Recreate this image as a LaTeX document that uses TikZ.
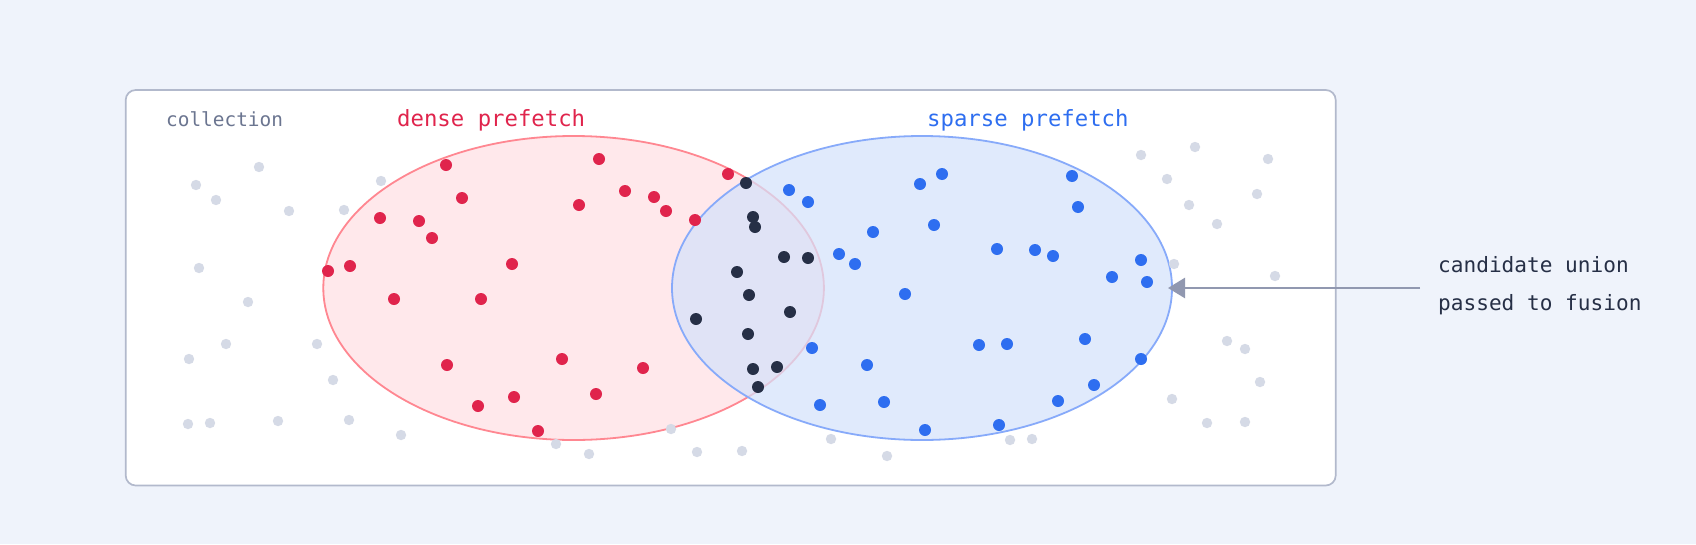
\documentclass[tikz,border=0pt]{standalone}
\usepackage{fontspec}
\setmonofont{DejaVu Sans Mono}
\usepackage{tikz}
\usetikzlibrary{arrows.meta}
\definecolor{bgcol}{RGB}{239,243,251}
\definecolor{boxline}{RGB}{178,185,204}
\definecolor{collcol}{RGB}{107,117,144}
\definecolor{redcol}{RGB}{224,36,76}
\definecolor{redline}{RGB}{255,135,145}
\definecolor{redfill}{RGB}{255,232,235}
\definecolor{bluecol}{RGB}{46,110,240}
\definecolor{blueline}{RGB}{135,170,250}
\definecolor{bluefill}{RGB}{213,226,251}
\definecolor{darkcol}{RGB}{38,47,70}
\definecolor{graycol}{RGB}{213,218,230}
\definecolor{arrowcol}{RGB}{145,152,176}

\begin{document}
\begin{tikzpicture}[x=1pt,y=-1pt,
  lbl/.style={anchor=base west,inner sep=0pt,font=\ttfamily\fontsize{22.3}{26}\selectfont},
  note/.style={anchor=base west,inner sep=0pt,text=darkcol,font=\ttfamily\fontsize{21.1}{25}\selectfont}]
%\draw[help lines](0,0)grid(1696,544);
\fill[bgcol] (0,0) rectangle (1696,544);
\draw[boxline,line width=1.7pt,fill=white,rounded corners=10pt] (125.7,90) rectangle (1335.7,485.5);
% the two prefetch sets
\draw[redline,fill=redfill,line width=1.8pt] (573.6,288) ellipse [x radius=250.3pt, y radius=152pt];
\fill[bluefill,fill opacity=0.72] (922,288) ellipse [x radius=250pt, y radius=152pt];
\draw[blueline,line width=1.8pt] (922,288) ellipse [x radius=250pt, y radius=152pt];
% rest of the collection
\foreach \x/\y in {196/185,216/200,259/167,289/211,344/210,381/181,199/268,248/302,226/344,189/359,317/344,333/380,188/424,210/423,278/421,349/420,401/435,556/444,589/454,671/429,697/452,742/451,831/439,887/456,1010/440,1032/439,1141/155,1195/147,1167/179,1189/205,1174/264,1172/399,1268/159,1257/194,1217/224,1275/276,1227/341,1245/349,1260/382,1207/423,1245/422}
  \fill[graycol] (\x,\y) circle [radius=5.2pt];
% dense only
\foreach \x/\y in {446/165,462/198,380/218,419/221,432/238,599/159,579/205,512/264,328/271,350/266,394/299,481/299,447/365,562/359,478/406,514/397,596/394,538/431,728/174,625/191,654/197,666/211,695/220,643/368}
  \fill[redcol] (\x,\y) circle [radius=6pt];
% sparse only
\foreach \x/\y in {789/190,808/202,873/232,920/184,942/174,934/225,1072/176,1078/207,997/249,1035/250,1053/256,1141/260,839/254,855/264,1112/277,1147/282,905/294,812/348,867/365,979/345,1007/344,1085/339,1141/359,1094/385,1058/401,884/402,820/405,925/430,999/425}
  \fill[bluecol] (\x,\y) circle [radius=6pt];
% in both
\foreach \x/\y in {746/183,753/217,755/227,784/257,808/258,737/272,749/295,696/319,790/312,748/334,753/369,777/367,758/387}
  \fill[darkcol] (\x,\y) circle [radius=6pt];
% labels
\node[lbl,text=collcol,font=\ttfamily\fontsize{19.4}{23}\selectfont] (colllbl) at (166,126.7) {collection};
\node[lbl,text=redcol] (denselbl) at (397,126.7) {dense prefetch};
\node[lbl,text=bluecol] (sparselbl) at (927,126.7) {sparse prefetch};
\node[note] (note1) at (1438,272.5) {candidate union};
\node[note] (note2) at (1438,310.5) {passed to fusion};
\coordinate (uniontail) at (1420,288);
\coordinate (uniontip) at (1168,288);
\draw[-{Triangle[length=17pt,width=20pt]},arrowcol,line width=2.6pt] (uniontail) -- (uniontip);
\end{tikzpicture}
\end{document}
